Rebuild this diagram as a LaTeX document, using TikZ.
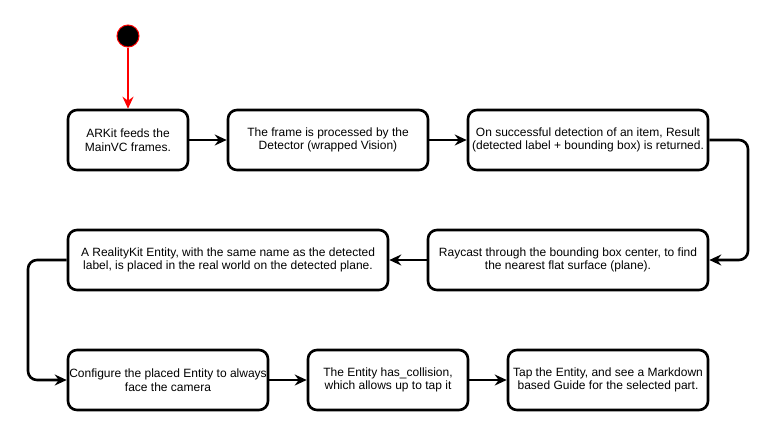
\documentclass[tikz,border=0pt]{standalone}
\usepackage{fontspec}
\setmainfont{Liberation Sans}
\usetikzlibrary{arrows.meta}
\begin{document}
\begin{tikzpicture}[x=1pt,y=-1pt,
  stepbox/.style={draw,line width=2.6pt,rounded corners=9pt,align=center,
    font=\fontsize{12}{13.5}\selectfont,inner sep=0pt},
  conn/.style={line width=2.6pt,-{Stealth[length=12pt,width=11pt,inset=4pt]}},
  startdot/.style={circle,fill=black,draw=red,line width=1pt,minimum size=22pt,inner sep=0pt}]
\useasboundingbox (0,0) rectangle (778,432);
\node[startdot] (s) at (128,36) {};
\node[stepbox,minimum width=120pt,minimum height=60pt] (b1) at (128,140) {ARKit feeds the\\MainVC frames.};
\node[stepbox,minimum width=200pt,minimum height=60pt] (b2) at (328,140) {The frame is processed by the\\Detector (wrapped Vision)};
\node[stepbox,minimum width=240pt,minimum height=60pt] (b3) at (588,140) {On successful detection of an item, Result\\(detected label + bounding box) is returned.};
\node[stepbox,minimum width=280pt,minimum height=60pt] (b4) at (568,260) {Raycast through the bounding box center, to find\\the nearest flat surface (plane).};
\node[stepbox,minimum width=320pt,minimum height=60pt] (b5) at (228,260) {A RealityKit Entity, with the same name as the detected\\label, is placed in the real world on the detected plane.};
\node[stepbox,minimum width=200pt,minimum height=60pt] (b6) at (168,380) {Configure the placed Entity to always\\face the camera};
\node[stepbox,minimum width=160pt,minimum height=60pt] (b7) at (388,380) {The Entity has\_collision,\\which allows up to tap it};
\node[stepbox,minimum width=200pt,minimum height=60pt] (b8) at (608,380) {Tap the Entity, and see a Markdown\\based Guide for the selected part.};
\coordinate (r1) at (748,140);
\coordinate (r2) at (748,260);
\coordinate (l1) at (28,260);
\coordinate (l2) at (28,380);
\draw[conn,red,line width=2.2pt] (s) -- (b1);
\draw[conn] (b1) -- (b2);
\draw[conn] (b2) -- (b3);
\draw[conn,rounded corners=9pt] (b3.east) -- (r1) -- (r2) -- (b4.east);
\draw[conn] (b4) -- (b5);
\draw[conn,rounded corners=9pt] (b5.west) -- (l1) -- (l2) -- (b6.west);
\draw[conn] (b6) -- (b7);
\draw[conn] (b7) -- (b8);
\end{tikzpicture}
\end{document}
